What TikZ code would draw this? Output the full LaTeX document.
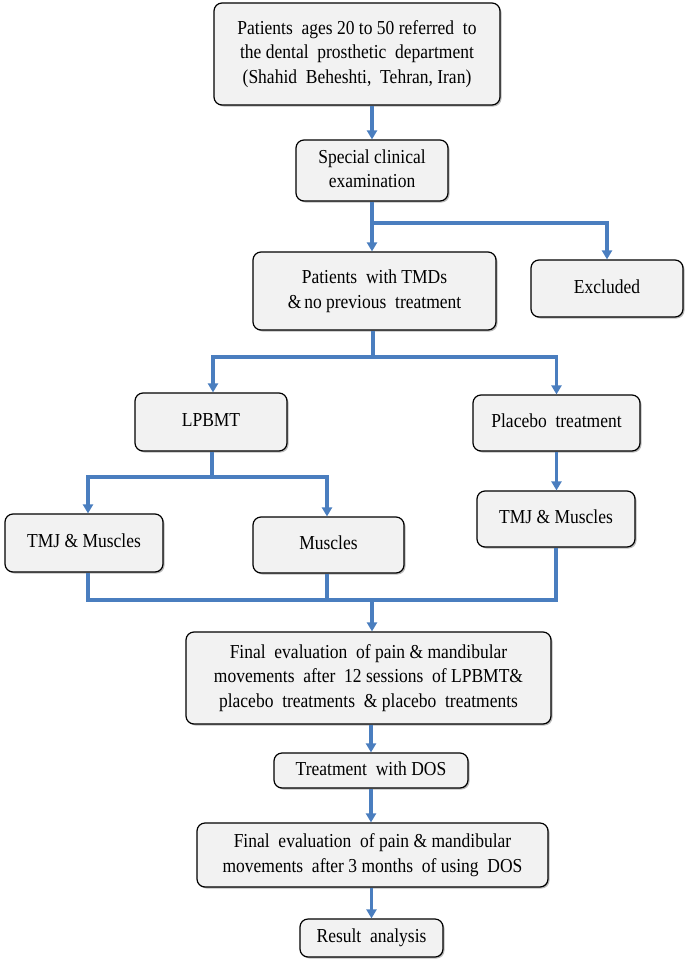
\documentclass[tikz,border=0pt]{standalone}
\usepackage{fontspec}
\usepackage{graphicx}
\setmainfont{Liberation Serif}
\usetikzlibrary{arrows.meta,shadows}
\definecolor{boxfill}{HTML}{F2F2F2}
\definecolor{arrblue}{HTML}{4A7EBF}
\newcommand{\stretchtxt}[1]{\scalebox{1}[1.13]{\begin{tabular}{@{}c@{}}#1\end{tabular}}}
\tikzset{
  box/.style={draw=black, line width=1.2pt, fill=boxfill, rounded corners=8pt,
    align=center, inner sep=0pt, font=\fontsize{17.5}{21.5}\selectfont,
    drop shadow={shadow xshift=1.5pt, shadow yshift=-1.5pt, fill=black!45, opacity=0.6}},
  conn/.style={draw=arrblue, line width=3.3pt},
  arr/.style={conn, -{Triangle[length=9pt,width=10pt]}}
}
\begin{document}
\begin{tikzpicture}[x=1pt,y=-1pt]
\useasboundingbox (0,0) rectangle (685,966);
\node[box, minimum width=286pt, minimum height=102pt] (b1) at (357,54)
  {\stretchtxt{Patients\ \ ages 20 to 50 referred\ \ to\\the dental\ \ prosthetic\ \ department\\(Shahid\ \ Beheshti,\ \ Tehran,\ Iran)}};
\node[box, minimum width=152pt, minimum height=61pt] (b2) at (372,170.5)
  {\stretchtxt{Special clinical\\examination}};
\node[box, minimum width=243pt, minimum height=78pt] (b3) at (374.5,291)
  {\stretchtxt{Patients\ \ with TMDs\\\&\,no previous\ \ treatment}};
\node[box, minimum width=152pt, minimum height=57pt] (exc) at (607,288.5) {\stretchtxt{Excluded}};
\node[box, minimum width=152pt, minimum height=58pt] (lp) at (211,422) {\stretchtxt{LPBMT}};
\node[box, minimum width=167pt, minimum height=56pt] (pl) at (556.5,423) {\stretchtxt{Placebo\ \ treatment}};
\node[box, minimum width=158pt, minimum height=58pt] (tm1) at (84,543) {\stretchtxt{TMJ \& Muscles}};
\node[box, minimum width=151pt, minimum height=56pt] (mu) at (328.5,545) {\stretchtxt{Muscles}};
\node[box, minimum width=158pt, minimum height=56pt] (tm2) at (556,519) {\stretchtxt{TMJ \& Muscles}};
\node[box, minimum width=365pt, minimum height=92pt] (fe1) at (368.5,678)
  {\stretchtxt{Final\ \ evaluation\ \ of pain \& mandibular\\movements\ \ after\ \ 12 sessions\ \ of LPBMT\&\\placebo\ \ treatments\ \ \& placebo\ \ treatments}};
\node[box, minimum width=194pt, minimum height=35pt] (dos) at (371,770.5) {\stretchtxt{Treatment\ \ with DOS}};
\node[box, minimum width=351pt, minimum height=64pt] (fe2) at (372.5,855)
  {\stretchtxt{Final\ \ evaluation\ \ of pain \& mandibular\\movements\ \ after 3 months\ \ of using\ \ DOS}};
\node[box, minimum width=143pt, minimum height=38pt] (ra) at (371.5,938) {\stretchtxt{Result\ \ analysis}};

\coordinate (j1) at (372,223);
\coordinate (j2) at (373,357);
\coordinate (j3) at (212,477);
\coordinate (j4) at (372,600);

\draw[arr] (b2.north |- b1.south) -- (b2.north);
\draw[arr] (b2.south) -- (b2.south |- b3.north);
\draw[arr] (j1) -| (exc.north);
\draw[conn] (b3.south -| j2) -- (j2);
\draw[arr] (j2) -| ([xshift=2pt]lp.north);
\draw[arr] (j2) -| (pl.north);
\draw[conn] (lp.south -| j3) -- (j3);
\draw[arr] (j3) -| ([xshift=4pt]tm1.north);
\draw[arr] (j3) -| ([xshift=-1.5pt]mu.north);
\draw[arr] (pl.south) -- (pl.south |- tm2.north);
\draw[conn] ([xshift=4pt]tm1.south) |- (j4) -| (tm2.south);
\draw[conn] ([xshift=-1.5pt]mu.south) -- ([xshift=-1.5pt]mu.south |- j4);
\draw[arr] (j4) -- (j4 |- fe1.north);
\draw[arr] (dos.north |- fe1.south) -- (dos.north);
\draw[arr] (dos.south) -- (dos.south |- fe2.north);
\draw[arr] (ra.north |- fe2.south) -- (ra.north);
\end{tikzpicture}
\end{document}
